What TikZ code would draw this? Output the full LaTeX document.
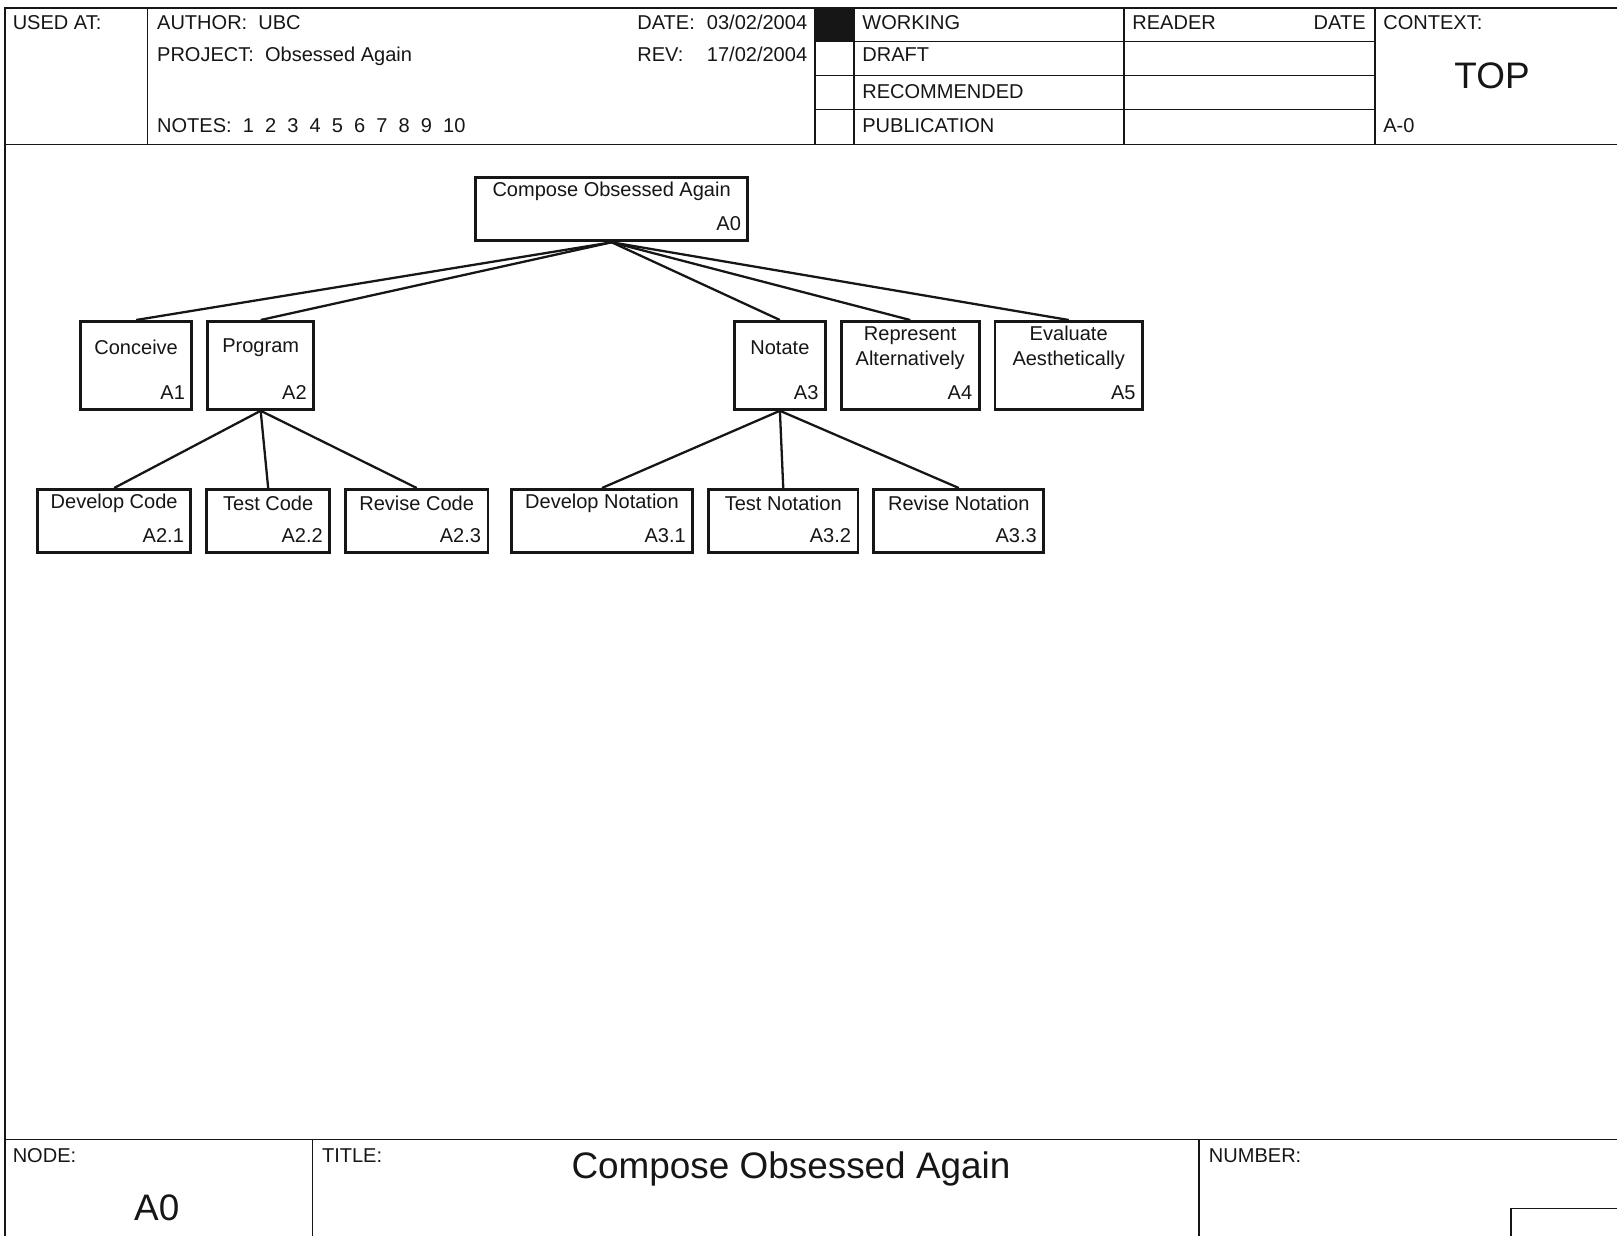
\documentclass[tikz,border=0pt]{standalone}
\usepackage{fontspec}
\setmainfont{Liberation Sans}
\usetikzlibrary{positioning}
\definecolor{ink}{HTML}{161616}
\newcommand\sheetfont{\fontsize{11.4}{14.2}\selectfont}
\newcommand\sheetbig{\fontsize{21}{24}\selectfont}
\tikzset{
  frame/.style={draw=ink,line width=1.1pt},
  rule/.style={draw=ink,line width=0.8pt},
  cell/.style={font=\sheetfont,text=ink,anchor=base west,inner sep=0pt},
  cellr/.style={cell,anchor=base east},
  bigcell/.style={font=\sheetbig,text=ink,anchor=base,inner sep=0pt},
  act/.style={draw=ink,line width=1.6pt,fill=white,anchor=north west,inner sep=0pt,minimum width=#1},
  tall/.style={minimum height=1.76cm},
  flat/.style={minimum height=1.27cm},
  actname/.style={font=\sheetfont,text=ink,align=center,anchor=center,inner sep=0pt},
  actid/.style={font=\sheetfont,text=ink,anchor=base east,inner sep=0pt,xshift=-0.16cm,yshift=0.226cm},
  link/.style={draw=ink,line width=1.3pt}
}
\begin{document}
\begin{tikzpicture}[x=0.02cm,y=-0.02cm,node distance=0.26cm]
  \path[use as bounding box,clip] (0,0) rectangle (1617,1236);
  % sheet frame
  \draw[frame] (5,8) rectangle (1660,1280);
  \draw[frame] (5,144.5) -- (1660,144.5);
  \draw[frame] (5,1139.5) -- (1660,1139.5);
  \foreach \x in {147.5,815,854,1124,1375}
    \draw[rule] (\x,8) -- (\x,144.5);
  \foreach \y in {41.3,75.3,109.3}
    \draw[rule] (815,\y) -- (1375,\y);
  \fill[ink] (815,8) rectangle (854,41.3);
  \draw[rule] (312.5,1139.5) -- (312.5,1280);
  \draw[rule] (1199,1139.5) -- (1199,1280);
  \draw[rule] (1511,1208.6) rectangle (1660,1280);

  % header texts
  \node[cell] (usedat) at (12.4,30) {USED AT:};
  \node[cell] (author) at (156.8,30) {AUTHOR:\ \ UBC};
  \node[cell] (project) at (156.8,62) {PROJECT:\ \ Obsessed Again};
  \node[cell] (notes) at (156.8,133) {NOTES:\ \ 1\ \ 2\ \ 3\ \ 4\ \ 5\ \ 6\ \ 7\ \ 8\ \ 9\ \ 10};
  \node[cell] (date) at (637,30) {DATE:};
  \node[cellr] (dateval) at (807.5,30) {03/02/2004};
  \node[cell] (rev) at (637,62) {REV:};
  \node[cellr] (revval) at (807.5,62) {17/02/2004};
  \node[cell] (working) at (862,30) {WORKING};
  \node[cell] (draft) at (862,62) {DRAFT};
  \node[cell] (recommended) at (862,99) {RECOMMENDED};
  \node[cell] (publication) at (862,133) {PUBLICATION};
  \node[cell] (reader) at (1132,30) {READER};
  \node[cellr] (readerdate) at (1366,30) {DATE};
  \node[cell] (context) at (1383,30) {CONTEXT:};
  \node[bigcell] (top) at (1492,88.5) {TOP};
  \node[cell] (ctxnum) at (1383,133) {A-0};

  % footer texts
  \node[cell] (nodelab) at (12.4,1162) {NODE:};
  \node[bigcell] (nodeval) at (156.8,1220) {A0};
  \node[cell] (titlelab) at (321.7,1162) {TITLE:};
  \node[bigcell] (titleval) at (791,1178.5) {Compose Obsessed Again};
  \node[cell] (numberlab) at (1208.6,1162) {NUMBER:};

  % activity tree
  \node[act=5.45cm,flat,label={[actname,yshift=-0.31cm]north:Compose Obsessed Again},label={[actid]south east:A0}] (a0) at (474,176) {};

  \node[act=2.23cm,tall,label={[actname,yshift=-0.556cm]north:Conceive},label={[actid]south east:A1}] (a1) at (79,320) {};
  \node[act=2.12cm,tall,right=of a1,label={[actname,yshift=-0.556cm]north:Program},label={[actid]south east:A2}] (a2) {};
  \node[act=1.82cm,tall,label={[actname,yshift=-0.556cm]north:Notate},label={[actid]south east:A3}] (a3) at (733,320) {};
  \node[act=2.76cm,tall,right=of a3,label={[actname,yshift=-0.556cm]north:Represent\\Alternatively},label={[actid]south east:A4}] (a4) {};
  \node[act=2.95cm,tall,right=of a4,label={[actname,yshift=-0.556cm]north:Evaluate\\Aesthetically},label={[actid]south east:A5}] (a5) {};

  \node[act=3.07cm,flat,label={[actname,yshift=-0.304cm]north:Develop Code},label={[actid]south east:A2.1}] (a21) at (36,488) {};
  \node[act=2.46cm,flat,right=of a21,label={[actname,yshift=-0.304cm]north:Test Code},label={[actid]south east:A2.2}] (a22) {};
  \node[act=2.85cm,flat,right=of a22,label={[actname,yshift=-0.304cm]north:Revise Code},label={[actid]south east:A2.3}] (a23) {};
  \node[act=3.63cm,flat,right=0.41cm of a23,label={[actname,yshift=-0.304cm]north:Develop Notation},label={[actid]south east:A3.1}] (a31) {};
  \node[act=2.99cm,flat,right=of a31,label={[actname,yshift=-0.304cm]north:Test Notation},label={[actid]south east:A3.2}] (a32) {};
  \node[act=3.40cm,flat,right=of a32,label={[actname,yshift=-0.304cm]north:Revise Notation},label={[actid]south east:A3.3}] (a33) {};

  \foreach \k in {a1,a2,a3,a4,a5}
    \draw[link] (a0.south) -- (\k.north);
  \foreach \k in {a21,a22,a23}
    \draw[link] (a2.south) -- (\k.north);
  \foreach \k in {a31,a32,a33}
    \draw[link] (a3.south) -- (\k.north);
\end{tikzpicture}
\end{document}
